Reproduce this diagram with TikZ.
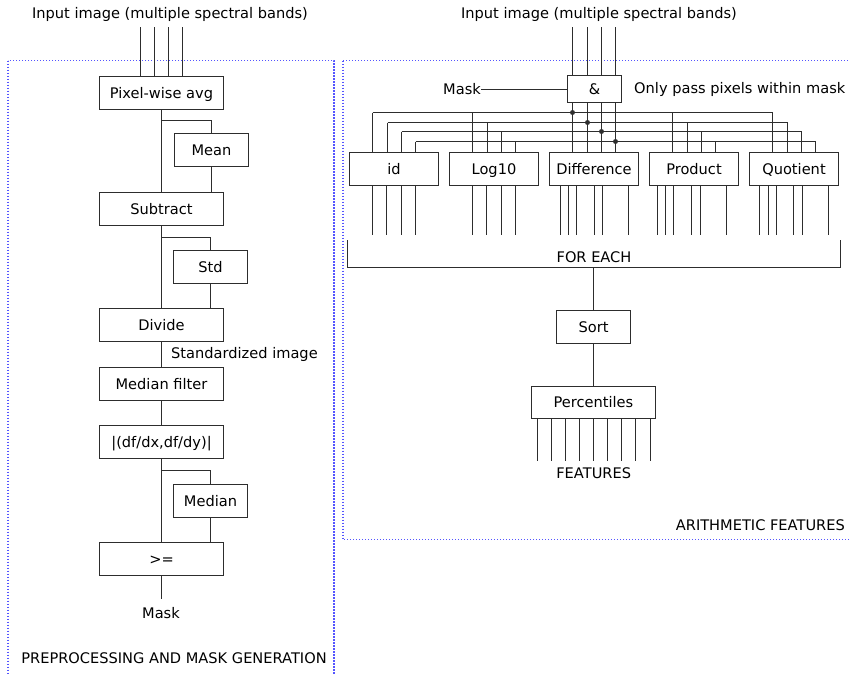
\documentclass[tikz,border=0pt]{standalone}
\usepackage{fontspec}
\setmainfont{DejaVu Sans}
\definecolor{framecol}{RGB}{85,85,255}
\definecolor{wirecol}{RGB}{45,45,45}
\begin{document}
\begin{tikzpicture}[x=1pt,y=-1pt,
  wire/.style={draw=wirecol, line width=1.5pt},
  box/.style={draw=wirecol, line width=1.5pt, inner sep=0pt, minimum height=33pt,
              text height=13.6pt, text depth=3pt,
              font=\fontsize{14.6}{17}\selectfont},
  lbl/.style={inner sep=0pt, font=\fontsize{14.6}{17}\selectfont},
  frame/.style={draw=framecol, line width=1.4pt, dash pattern=on 1.4pt off 1.6pt}]
\useasboundingbox (0,0) rectangle (850,673);

% ---------------- preprocessing and mask generation ----------------
\draw[frame] (8,60.5) rectangle (334,690);
\node[lbl] (inL) at (170,14) {Input image (multiple spectral bands)};
\node[box, minimum width=124pt] (avg)  at (161.5,93)  {Pixel-wise avg};
\node[box, minimum width=74pt]  (mean) at (211.5,150) {Mean};
\node[box, minimum width=124pt] (sub)  at (161.5,209) {Subtract};
\node[box, minimum width=74pt]  (std)  at (210.5,267) {Std};
\node[box, minimum width=124pt] (div)  at (161.5,325) {Divide};
\node[lbl, anchor=west] (stdimg) at (171,354) {Standardized image};
\node[box, minimum width=124pt] (medf) at (161.5,384) {Median filter};
\node[box, minimum width=124pt] (grad) at (161.5,442) {|(df/dx,df/dy)|};
\node[box, minimum width=74pt]  (med)  at (210.5,501) {Median};
\node[box, minimum width=124pt] (ge)   at (161.5,559) {>=};
\node[lbl] (maskL) at (161,613) {Mask};
\node[lbl] (titleL) at (174,658) {PREPROCESSING AND MASK GENERATION};

\foreach \xx in {140.5,154.5,168.5,182.5}
  \draw[wire] (\xx,27) -- (avg.north -| \xx,0);

\coordinate (br1) at (161.5,120.5);
\coordinate (br2) at (161.5,237.5);
\coordinate (br3) at (161.5,470.5);
\coordinate (mout) at (161.5,599);

\draw[wire] (avg.south) -- (sub.north);
\draw[wire] (br1) -| (mean.north);
\draw[wire] (mean.south) -- (mean.south |- sub.north);
\draw[wire] (sub.south) -- (div.north);
\draw[wire] (br2) -| (std.north);
\draw[wire] (std.south) -- (std.south |- div.north);
\draw[wire] (div.south) -- (medf.north);
\draw[wire] (medf.south) -- (grad.north);
\draw[wire] (grad.south) -- (ge.north);
\draw[wire] (br3) -| (med.north);
\draw[wire] (med.south) -- (med.south |- ge.north);
\draw[wire] (ge.south) -- (mout);

% ---------------- arithmetic features ----------------
\draw[frame] (343,60.5) -- (860,60.5) (343,60.5) -- (343,539.5) -- (860,539.5);
\node[lbl] (inR) at (599,14) {Input image (multiple spectral bands)};
\node[box, minimum width=54pt, minimum height=27pt] (and) at (594.5,89) {\&};
\node[lbl, anchor=east] (maskR) at (481,89.5) {Mask};
\node[lbl, anchor=west] (pass) at (634,89.5) {Only pass pixels within mask};
\draw[wire] (maskR.east) -- (maskR.east -| and.west);

\foreach \j/\t in {0/id,1/Log10,2/Difference,3/Product,4/Quotient}
  \node[box, minimum width=89pt] (b\j) at (394+100*\j,169) {\t};

% band lines through the mask gate
\foreach \k in {0,1,2,3} {
  \pgfmathsetmacro\xx{floor(572.7+14.33*\k)+0.5}
  \draw[wire] (\xx,27) -- (and.north -| \xx,0);
  \draw[wire] (and.south -| \xx,0) -- (b2.north -| \xx,0);
}

% distribution buses to every operation
\foreach \k/\yy in {0/112.5,1/122.5,2/131.5,3/141.5} {
  \pgfmathsetmacro\xa{floor(372.7+14.33*\k)+0.5}
  \pgfmathsetmacro\xb{floor(772.7+14.33*\k)+0.5}
  \pgfmathsetmacro\xc{floor(572.7+14.33*\k)+0.5}
  \draw[wire] (\xa,\yy) -- (\xb,\yy);
  \fill[wirecol] (\xc,\yy) circle (2.5pt);
  \foreach \j in {0,1,3,4} {
    \pgfmathsetmacro\xd{floor(372.7+14.33*\k+100*\j)+0.5}
    \draw[wire] (\xd,\yy) -- (b\j.north -| \xd,0);
  }
}

% outputs of each operation
\foreach \xx in {372.5,386.5,401.5,415.5}
  \draw[wire] (b0.south -| \xx,0) -- (\xx,234.5);
\foreach \xx in {472.5,486.5,501.5,515.5}
  \draw[wire] (b1.south -| \xx,0) -- (\xx,234.5);
\foreach \xx in {560.5,568.5,576.5,594.5,602.5,628.5}
  \draw[wire] (b2.south -| \xx,0) -- (\xx,234.5);
\foreach \xx in {657.5,665.5,673.5,691.5,700.5,726.5}
  \draw[wire] (b3.south -| \xx,0) -- (\xx,234.5);
\foreach \xx in {759.5,768.5,776.5,793.5,802.5,828.5}
  \draw[wire] (b4.south -| \xx,0) -- (\xx,234.5);

% FOR EACH bracket
\coordinate (feL) at (347.5,240);
\coordinate (feR) at (840.5,240);
\coordinate (feM) at (593.5,267.5);
\draw[wire] (feL) |- (feR |- feM) -- (feR);
\node[lbl] (foreach) at (594,256.7) {FOR EACH};

\node[box, minimum width=74pt] (sort) at (593.5,327) {Sort};
\node[box, minimum width=124pt, minimum height=32pt] (perc) at (593.5,402.5) {Percentiles};
\draw[wire] (feM) -- (sort.north);
\draw[wire] (sort.south) -- (perc.north);
\foreach \k in {0,...,8} {
  \pgfmathsetmacro\xx{floor(537.3+14.09*\k)+0.5}
  \draw[wire] (perc.south -| \xx,0) -- (\xx,461);
}
\node[lbl] (feat) at (593.7,472.7) {FEATURES};
\node[lbl, anchor=east] (titleR) at (845,525) {ARITHMETIC FEATURES};
\end{tikzpicture}
\end{document}
